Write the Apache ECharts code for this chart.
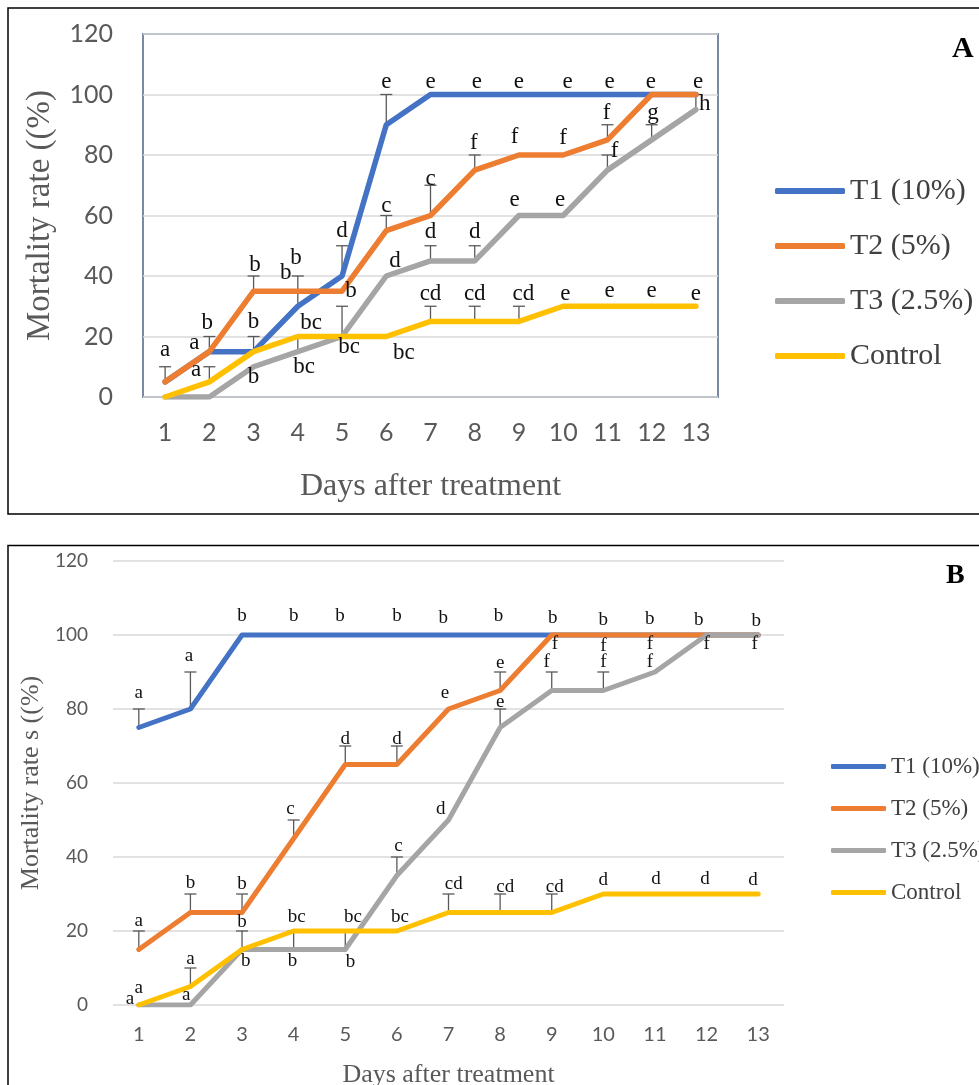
<!DOCTYPE html>
<html><head><meta charset="utf-8">
<script src="https://cdn.jsdelivr.net/npm/echarts@6/dist/echarts.min.js"></script>
<style>html,body{margin:0;padding:0;background:#fff}#c{width:979px;height:1085px}</style>
</head><body><div id="c"></div>
<script>
// ---------- data ----------
const days = ['1','2','3','4','5','6','7','8','9','10','11','12','13'];
const seriesNames = ['T1 (10%)', 'T2 (5%)', 'T3 (2.5%)', 'Control'];
const colors = ['#4472C4', '#ED7D31', '#A5A5A5', '#FFC000'];

// Panel A
const aT1 = [5, 15, 15, 30, 40, 90, 100, 100, 100, 100, 100, 100, 100];
const aT2 = [5, 15, 35, 35, 35, 55, 60, 75, 80, 80, 85, 100, 100];
const aT3 = [0, 0, 10, 15, 20, 40, 45, 45, 60, 60, 75, 85, 95];
const aCtrl = [0, 5, 15, 20, 20, 20, 25, 25, 25, 30, 30, 30, 30];
// error bars: [day, low, high]
const aErr = [[1,5,10],[2,15,20],[2,5,10],[3,35,40],[3,15,20],[4,30,40],[4,15,20],
  [5,40,50],[5,20,30],[6,90,100],[6,55,60],[7,60,70],[7,45,50],[7,25,30],
  [8,75,80],[8,45,50],[8,25,30],[9,25,30],[11,85,90],[11,75,80],[12,85,90],[13,95,100]];
// significance letters: [day, value, text]
const aLetters = [[1,15.5,'a'],[1.66,18,'a'],[1.95,24.5,'b'],[1.7,9,'a'],
  [3.03,43.6,'b'],[3,24.8,'b'],[3,6.6,'b'],
  [3.96,46,'b'],[3.73,41,'b'],[4.3,24.5,'bc'],[4.14,10,'bc'],
  [5,55,'d'],[5.2,35,'b'],[5.16,16.5,'bc'],
  [6,104,'e'],[6,63,'c'],[6.2,45,'d'],[6.4,14.5,'bc'],
  [7,104,'e'],[7,72,'c'],[7,54.5,'d'],[7,34,'cd'],
  [8.05,104,'e'],[7.98,84,'f'],[8,54.5,'d'],[8,34,'cd'],
  [9,104,'e'],[8.9,86,'f'],[8.9,65,'e'],[9.1,34,'cd'],
  [10.1,104,'e'],[10,85.5,'f'],[9.93,65,'e'],[10.05,34,'e'],
  [11.05,104,'e'],[10.98,94,'f'],[11.16,81.5,'f'],[11.05,35,'e'],
  [11.98,104,'e'],[12.03,94,'g'],[12,35,'e'],
  [13.05,104,'e'],[13.2,97,'h'],[13,34,'e']];

// Panel B
const bT1 = [75, 80, 100, 100, 100, 100, 100, 100, 100, 100, 100, 100, 100];
const bT2 = [15, 25, 25, 45, 65, 65, 80, 85, 100, 100, 100, 100, 100];
const bT3 = [0, 0, 15, 15, 15, 35, 50, 75, 85, 85, 90, 100, 100];
const bCtrl = [0, 5, 15, 20, 20, 20, 25, 25, 25, 30, 30, 30, 30];
const bErr = [[1,75,80],[1,15,20],[2,80,90],[2,25,30],[2,5,10],[3,25,30],[3,15,20],
  [4,45,50],[4,15,20],[5,15,20],[5,65,70],[6,65,70],[6,35,40],[7,25,30],
  [8,85,90],[8,75,80],[8,25,30],[9,85,90],[9,25,30],[10,85,90]];
const bLetters = [[1,84.3,'a'],[1,22.7,'a'],[0.83,1.6,'a'],[1,4.5,'a'],
  [1.97,94.3,'a'],[2,33,'b'],[2,12.3,'a'],[1.92,2.6,'a'],
  [3,105,'b'],[3,32.7,'b'],[3,22.4,'b'],[3.07,12,'b'],
  [4,105,'b'],[3.94,53,'c'],[4.06,23.7,'bc'],[3.98,12,'b'],
  [4.9,105,'b'],[5,72,'d'],[5.15,23.7,'bc'],[5.1,11.5,'b'],
  [6,105,'b'],[6,72,'d'],[6.03,43,'c'],[6.06,23.7,'bc'],
  [6.9,104.5,'b'],[6.93,84.3,'e'],[6.85,53,'d'],[7.1,32.6,'cd'],
  [7.97,105,'b'],[8,92.5,'e'],[8,82,'e'],[8.1,32,'cd'],
  [9.02,104.5,'b'],[9.06,97.6,'f'],[8.9,92.7,'f'],[9.06,32,'cd'],
  [10,104,'b'],[10,97,'f'],[10,92.7,'f'],[10,33.8,'d'],
  [10.9,104.3,'b'],[10.9,97.6,'f'],[10.9,92.7,'f'],[11.02,34,'d'],
  [11.85,104,'b'],[12,97.6,'f'],[11.97,34,'d'],
  [12.96,103.7,'b'],[12.93,97.6,'f'],[12.9,33.8,'d']];

// ---------- chart ----------
const SERIF = 'Liberation Serif';
const SANS = 'Lato';
const chart = echarts.init(document.getElementById('c'));

function errSeries(arr, gi, capW) {
  return {
    type: 'custom', name: 'err' + gi, xAxisIndex: gi, yAxisIndex: gi, z: 1, silent: true,
    data: arr.map(e => [e[0] - 1, e[1], e[2]]),
    renderItem: (p, api) => {
      const lo = api.coord([api.value(0), api.value(1)]);
      const hi = api.coord([api.value(0), api.value(2)]);
      const st = { stroke: '#595959', lineWidth: 1.3 };
      return { type: 'group', children: [
        { type: 'line', shape: { x1: lo[0], y1: lo[1], x2: hi[0], y2: hi[1] }, style: st },
        { type: 'line', shape: { x1: hi[0] - capW, y1: hi[1], x2: hi[0] + capW, y2: hi[1] }, style: st }
      ]};
    }
  };
}
function letterSeries(arr, gi, fs) {
  return {
    type: 'custom', name: 'let' + gi, xAxisIndex: gi, yAxisIndex: gi, z: 5, silent: true,
    data: arr.map(l => [Math.round(l[0]) - 1, l[1]]),
    renderItem: (p, api) => {
      const l = arr[p.dataIndex];
      const p0 = api.coord([0, l[1]]);
      const p1 = api.coord([1, l[1]]);
      const x = p0[0] + (l[0] - 1) * (p1[0] - p0[0]);
      return { type: 'text', x: x, y: p0[1], style: {
        text: l[2], fill: '#111', fontSize: fs, fontFamily: SERIF, align: 'center', verticalAlign: 'middle' } };
    }
  };
}
function lineSeries(vals, i, gi, w) {
  return { type: 'line', name: seriesNames[i], xAxisIndex: gi, yAxisIndex: gi, data: vals, z: 3,
    symbol: 'none', color: colors[i], lineStyle: { width: w, color: colors[i], cap: 'round', join: 'round' } };
}

const option = {
  animation: false,
  backgroundColor: '#fff',
  title: [
    { text: 'A', left: 947, top: 29, textStyle: { fontFamily: SERIF, fontWeight: 'bold', fontSize: 30, color: '#000' } },
    { text: 'B', left: 941, top: 557, textStyle: { fontFamily: SERIF, fontWeight: 'bold', fontSize: 28, color: '#000' } }
  ],
  graphic: [
    { type: 'rect', shape: { x: 8, y: 8, width: 1000, height: 506 }, style: { fill: 'none', stroke: '#000', lineWidth: 1.5 }, z: 100 },
    { type: 'rect', shape: { x: 8, y: 545.5, width: 1000, height: 600 }, style: { fill: 'none', stroke: '#000', lineWidth: 1.5 }, z: 100 }
  ],
  legend: [
    { data: seriesNames, orient: 'vertical', left: 770, top: 171, itemWidth: 70, itemHeight: 6, itemGap: 25,
      icon: 'roundRect', selectedMode: false,
      textStyle: { fontFamily: SERIF, fontSize: 30, color: '#404040' } },
    { data: seriesNames, orient: 'vertical', left: 826, top: 750, itemWidth: 55, itemHeight: 5, itemGap: 19,
      icon: 'roundRect', selectedMode: false,
      textStyle: { fontFamily: SERIF, fontSize: 23, color: '#404040' } }
  ],
  grid: [
    { left: 143, top: 34, width: 575, height: 363, outerBoundsMode: 'none', containLabel: false,
      show: true, borderColor: '#7a8aa3', borderWidth: 2, backgroundColor: 'transparent' },
    { left: 113, top: 561, width: 671, height: 444, outerBoundsMode: 'none', containLabel: false }
  ],
  xAxis: [
    { type: 'category', gridIndex: 0, data: days, boundaryGap: true,
      axisLine: { show: false }, axisTick: { show: false },
      axisLabel: { interval: 0, margin: 23, fontFamily: SANS, fontSize: 25, color: '#595959' },
      name: 'Days after treatment', nameLocation: 'middle', nameGap: 74,
      nameTextStyle: { fontFamily: SERIF, fontSize: 32, color: '#595959' } },
    { type: 'category', gridIndex: 1, data: days, boundaryGap: true,
      axisLine: { show: false }, axisTick: { show: false },
      axisLabel: { interval: 0, margin: 20, fontFamily: SANS, fontSize: 20, color: '#595959' },
      name: 'Days after treatment', nameLocation: 'middle', nameGap: 57,
      nameTextStyle: { fontFamily: SERIF, fontSize: 26, color: '#595959' } }
  ],
  yAxis: [
    { type: 'value', gridIndex: 0, min: 0, max: 120, interval: 20,
      axisLine: { show: false }, axisTick: { show: false },
      splitLine: { lineStyle: { color: '#d9d9d9', width: 1.5 } },
      axisLabel: { margin: 30, fontFamily: SANS, fontSize: 25, color: '#595959' },
      name: 'Mortality rate ((%)', nameLocation: 'middle', nameGap: 86, nameRotate: 90,
      nameTextStyle: { fontFamily: SERIF, fontSize: 33, color: '#595959' } },
    { type: 'value', gridIndex: 1, min: 0, max: 120, interval: 20,
      axisLine: { show: false }, axisTick: { show: false },
      splitLine: { lineStyle: { color: '#d9d9d9', width: 1.5 } },
      axisLabel: { margin: 25, fontFamily: SANS, fontSize: 19, color: '#595959' },
      name: 'Mortality rate s ((%)', nameLocation: 'middle', nameGap: 69, nameRotate: 90,
      nameTextStyle: { fontFamily: SERIF, fontSize: 26, color: '#595959' } }
  ],
  series: [
    errSeries(aErr, 0, 6),
    lineSeries(aT1, 0, 0, 5.5), lineSeries(aT2, 1, 0, 5.5), lineSeries(aT3, 2, 0, 5.5), lineSeries(aCtrl, 3, 0, 5.5),
    letterSeries(aLetters, 0, 23),
    errSeries(bErr, 1, 6),
    lineSeries(bT1, 0, 1, 5), lineSeries(bT2, 1, 1, 5), lineSeries(bT3, 2, 1, 5), lineSeries(bCtrl, 3, 1, 5),
    letterSeries(bLetters, 1, 19)
  ]
};
chart.setOption(option);
</script></body></html>
